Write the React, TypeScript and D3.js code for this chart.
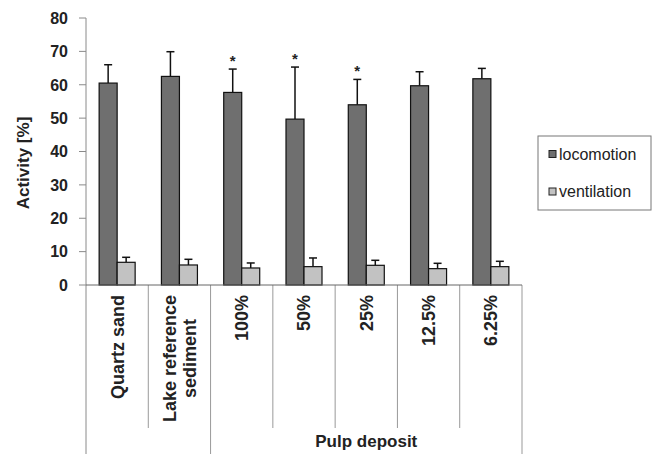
import * as d3 from "d3";
import React from "react";

const categories = ["Quartz sand", "Lake reference sediment", "100%", "50%", "25%", "12.5%", "6.25%"];
const labelLines = [["Quartz sand"], ["Lake reference", "sediment"], ["100%"], ["50%"], ["25%"], ["12.5%"], ["6.25%"]];
const series = ["locomotion", "ventilation"];
const locomotion = [60.5, 62.5, 57.7, 49.7, 54.0, 59.7, 61.8];
const locomotionErr = [5.5, 7.4, 7.0, 15.6, 7.6, 4.2, 3.1];
const ventilation = [6.8, 6.0, 5.1, 5.5, 5.9, 4.9, 5.5];
const ventilationErr = [1.5, 1.7, 1.5, 2.6, 1.5, 1.6, 1.6];
const significant = [false, false, true, true, true, false, false];
const yTicks = [0, 10, 20, 30, 40, 50, 60, 70, 80];
const groupLabel = "Pulp deposit";
const groupStart = 2;

const colors = { locomotion: "#6f6f6f", ventilation: "#c2c2c2" };
const font = "'Liberation Sans', Arial, sans-serif";

// rough text width, used to centre the two-line label
function textWidth(s: string, size: number) {
  const c = document.createElement("canvas").getContext("2d");
  if (!c) return s.length * size * 0.55;
  c.font = `bold ${size}px 'Liberation Sans', Arial, sans-serif`;
  return c.measureText(s).width;
}

export default function App() {
  const width = 654;
  const height = 454;
  const margin = { top: 18, left: 86, right: 132, bottom: 169 };

  const x = d3.scaleBand().domain(categories).range([margin.left, width - margin.right]).padding(0);
  const y = d3.scaleLinear().domain([0, 80]).range([height - margin.bottom, margin.top]);
  const bw = x.bandwidth();
  const barW = 18;
  const pad = (bw - barW * 2) / 2;
  const xs = d3.scaleBand().domain(series).range([pad, bw - pad]).padding(0);

  const y0 = y(0);
  const x0 = margin.left;
  const x1 = width - margin.right;
  const labelSize = 18;
  const labelTop = y0 + 10;

  const values = { locomotion, ventilation };
  const errs = { locomotion: locomotionErr, ventilation: ventilationErr };

  return (
    <div style={{ position: "fixed", left: 0, top: 0 }}>
      <svg width={width} height={height} style={{ display: "block", background: "#fff" }}>
        {/* y axis */}
        <line x1={x0} x2={x0} y1={y(80)} y2={height} stroke="#8a8a8a" strokeWidth={1} />
        {yTicks.map((t) => (
          <g key={t}>
            <line x1={x0 - 7} x2={x0} y1={y(t)} y2={y(t)} stroke="#8a8a8a" />
            <text x={x0 - 18} y={y(t)} dy="0.36em" textAnchor="end" fontFamily={font} fontWeight="bold" fontSize={16} fill="#222">
              {t}
            </text>
          </g>
        ))}
        <text
          transform={`translate(${23},${163}) rotate(-90)`}
          textAnchor="middle"
          dy="0.35em"
          fontFamily={font}
          fontWeight="bold"
          fontSize={17}
          fill="#222"
        >
          Activity [%]
        </text>

        {/* category dividers */}
        {categories.map((c, i) => {
          const xx = x(c)! + bw;
          const long = i === groupStart - 1 || i === categories.length - 1;
          return <line key={c} x1={xx} x2={xx} y1={y0} y2={long ? height : 428} stroke="#999" strokeWidth={1} />;
        })}

        {/* bars */}
        {categories.map((c, i) => (
          <g key={c}>
            {series.map((s) => {
              const v = values[s][i];
              const e = errs[s][i];
              const bx = x(c)! + xs(s)!;
              const cx = bx + barW / 2;
              return (
                <g key={s}>
                  <line x1={cx} x2={cx} y1={y(v)} y2={y(v + e)} stroke="#111" strokeWidth={1.5} />
                  <line x1={cx - 4} x2={cx + 4} y1={y(v + e)} y2={y(v + e)} stroke="#111" strokeWidth={1.5} />
                  <rect x={bx} y={y(v)} width={barW} height={y0 - y(v)} fill={colors[s]} stroke="#111" strokeWidth={1.2} />
                </g>
              );
            })}
            {significant[i] && (
              <text
                x={x(c)! + xs("locomotion")! + barW / 2}
                y={y(locomotion[i] + locomotionErr[i]) - 3}
                textAnchor="middle"
                fontFamily={font}
                fontWeight="bold"
                fontSize={15}
                fill="#222"
              >
                *
              </text>
            )}
          </g>
        ))}

        {/* x axis line */}
        <line x1={x0} x2={x1} y1={y0} y2={y0} stroke="#666" strokeWidth={1} />

        {/* category labels */}
        {categories.map((c, i) => {
          const lines = labelLines[i];
          const cx = x(c)! + bw / 2;
          if (lines.length === 1) {
            return (
              <text
                key={c}
                transform={`translate(${cx},${labelTop}) rotate(-90)`}
                textAnchor="end"
                dy="0.36em"
                fontFamily={font}
                fontWeight="bold"
                fontSize={labelSize}
                fill="#222"
              >
                {lines[0]}
              </text>
            );
          }
          const longest = d3.max(lines, (l) => textWidth(l, labelSize))!;
          const mid = labelTop + longest / 2;
          return lines.map((ln, j) => (
            <text
              key={c + j}
              transform={`translate(${cx + (j - (lines.length - 1) / 2) * 20},${mid}) rotate(-90)`}
              textAnchor="middle"
              dy="0.36em"
              fontFamily={font}
              fontWeight="bold"
              fontSize={labelSize}
              fill="#222"
            >
              {ln}
            </text>
          ));
        })}

        <text
          x={(x(categories[groupStart])! + x1) / 2}
          y={441}
          dy="0.35em"
          textAnchor="middle"
          fontFamily={font}
          fontWeight="bold"
          fontSize={17}
          fill="#222"
        >
          {groupLabel}
        </text>

        {/* legend */}
        <rect x={538} y={136} width={113} height={74} fill="#fff" stroke="#777" strokeWidth={1} />
        {series.map((s, i) => (
          <g key={s} transform={`translate(549,${154 + i * 37.5})`}>
            <rect x={0} y={-3.5} width={7} height={7} fill={colors[s]} stroke="#222" strokeWidth={1} />
            <text x={10} y={0} dy="0.35em" fontFamily={font} fontSize={16} fill="#222">
              {s}
            </text>
          </g>
        ))}
      </svg>
    </div>
  );
}
